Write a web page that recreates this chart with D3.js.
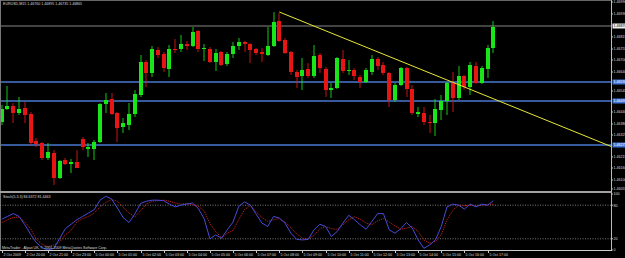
<!DOCTYPE html>
<html><head><meta charset="utf-8">
<script src="https://cdn.jsdelivr.net/npm/d3@7"></script>
<style>html,body{margin:0;padding:0;background:#000;}svg{display:block;}</style>
</head><body>
<svg id="c" width="625" height="258"></svg>
<script>
// ---- data (EURUSD M15) ----
const opens  = [1.46390,1.46455,1.46470,1.46435,1.46460,1.46430,1.46295,1.46285,1.46210,1.46235,1.46110,1.46200,1.46180,1.46190,1.46305,1.46255,1.46255,1.46290,1.46480,1.46505,1.46435,1.46365,1.46375,1.46430,1.46525,1.46690,1.46635,1.46750,1.46730,1.46655,1.46755,1.46755,1.46780,1.46770,1.46845,1.46755,1.46755,1.46690,1.46740,1.46680,1.46730,1.46770,1.46790,1.46780,1.46755,1.46740,1.46725,1.46770,1.46895,1.46800,1.46740,1.46640,1.46620,1.46655,1.46620,1.46725,1.46655,1.46550,1.46560,1.46705,1.46645,1.46650,1.46615,1.46590,1.46640,1.46705,1.46675,1.46635,1.46500,1.46575,1.46660,1.46555,1.46430,1.46435,1.46390,1.46385,1.46450,1.46495,1.46585,1.46510,1.46620,1.46565,1.46670,1.46585,1.46655,1.46760];
const highs  = [1.46475,1.46570,1.46485,1.46515,1.46490,1.46440,1.46310,1.46290,1.46285,1.46250,1.46200,1.46210,1.46205,1.46250,1.46315,1.46285,1.46300,1.46485,1.46535,1.46535,1.46440,1.46410,1.46485,1.46550,1.46725,1.46700,1.46770,1.46765,1.46740,1.46775,1.46805,1.46825,1.46795,1.46865,1.46850,1.46780,1.46765,1.46755,1.46745,1.46740,1.46790,1.46810,1.46795,1.46785,1.46760,1.46760,1.46865,1.46940,1.46935,1.46810,1.46745,1.46650,1.46710,1.46685,1.46775,1.46735,1.46665,1.46585,1.46715,1.46750,1.46700,1.46660,1.46625,1.46660,1.46725,1.46715,1.46690,1.46640,1.46585,1.46665,1.46665,1.46575,1.46465,1.46465,1.46425,1.46505,1.46525,1.46590,1.46640,1.46670,1.46625,1.46690,1.46690,1.46670,1.46775,1.46895];
const lows   = [1.46375,1.46450,1.46385,1.46425,1.46385,1.46275,1.46265,1.46200,1.46200,1.46075,1.46105,1.46175,1.46135,1.46160,1.46250,1.46215,1.46200,1.46285,1.46435,1.46425,1.46290,1.46335,1.46350,1.46415,1.46515,1.46565,1.46615,1.46710,1.46640,1.46615,1.46735,1.46740,1.46750,1.46765,1.46740,1.46695,1.46685,1.46645,1.46670,1.46670,1.46710,1.46750,1.46740,1.46685,1.46725,1.46690,1.46720,1.46765,1.46790,1.46730,1.46625,1.46560,1.46550,1.46610,1.46610,1.46635,1.46515,1.46510,1.46555,1.46635,1.46625,1.46600,1.46560,1.46585,1.46625,1.46650,1.46625,1.46465,1.46490,1.46570,1.46515,1.46425,1.46415,1.46375,1.46335,1.46320,1.46400,1.46425,1.46440,1.46500,1.46550,1.46525,1.46580,1.46580,1.46610,1.46735];
const closes = [1.46455,1.46470,1.46435,1.46455,1.46425,1.46285,1.46280,1.46210,1.46240,1.46110,1.46195,1.46180,1.46190,1.46160,1.46265,1.46265,1.46290,1.46480,1.46500,1.46430,1.46360,1.46385,1.46430,1.46530,1.46690,1.46635,1.46755,1.46725,1.46660,1.46755,1.46750,1.46780,1.46770,1.46840,1.46755,1.46760,1.46690,1.46735,1.46675,1.46730,1.46770,1.46790,1.46780,1.46750,1.46735,1.46730,1.46770,1.46890,1.46795,1.46735,1.46640,1.46615,1.46650,1.46620,1.46720,1.46660,1.46550,1.46560,1.46710,1.46645,1.46650,1.46620,1.46590,1.46650,1.46705,1.46670,1.46635,1.46500,1.46575,1.46660,1.46555,1.46435,1.46440,1.46390,1.46385,1.46455,1.46495,1.46585,1.46510,1.46620,1.46565,1.46675,1.46585,1.46660,1.46760,1.46865];
const stochK = [55,60,65,60,45,28,13,4,0,3,20,38,46,54,60,66,72,89,96,91,75,58,49,64,83,87,89,89,88,82,77,80,82,84,74,56,20,27,21,36,50,78,86,80,64,48,42,60,57,48,30,19,18,19,36,46,42,24,33,48,62,54,45,37,51,65,65,36,30,38,49,39,18,3,9,18,42,77,82,80,73,82,77,82,80,88];
const stochD = [49,54,58,59,50,38,19,10,6,9,14,27,35,50,56,60,66,77,85,90,87,76,66,59,70,82,87,88,89,87,84,82,83,81,78,70,47,33,22,30,35,55,72,80,68,58,51,54,56,50,40,29,21,20,26,38,42,38,37,45,54,59,55,48,45,52,56,50,43,37,39,42,33,18,12,15,27,54,71,80,79,80,79,80,81,82];
const timeLabels = ["2 Oct 2009","2 Oct 20:00","2 Oct 21:00","2 Oct 23:00","5 Oct 00:00","5 Oct 01:00","5 Oct 02:00","5 Oct 03:00","5 Oct 04:00","5 Oct 05:00","5 Oct 06:00","5 Oct 07:00","5 Oct 08:00","5 Oct 09:00","5 Oct 10:00","5 Oct 11:00","5 Oct 12:00","5 Oct 13:00","5 Oct 14:00","5 Oct 15:00","5 Oct 16:00","5 Oct 17:00"];
const timeLabelBars = [0,4,8,12,16,20,24,28,32,36,40,44,48,52,56,60,64,68,72,76,80,84];
const priceTicks = [1.46990,1.46930,1.46815,1.46755,1.46700,1.46640,1.46545,1.46440,1.46380,1.46325,1.46215,1.46160,1.46100,1.46055];
const grayLevel = 1.46870;
const blueLevels = [1.46590,1.46495,1.46275];
const trendBars = [48,105];
const trendPrices = [1.46940,1.46272];
const stochLevels = [80,20];
const stochTicks = [100,80,20,0];
const titleText = "EURUSD,M15  1.46760 1.46895 1.46735 1.46865";
const stochTitle = "Stoch(5,3,3) 84.6372 81.4463";
const footer = "MetaTrader - Alpari UK, \u00A9 2001-2009 MetaQuotes Software Corp.";

// ---- layout ----
const W = 625, plotR = 611, mainBot = 191, stTop = 193, stBot = 250;
const svg = d3.select("#c");
svg.append("rect").attr("width",W).attr("height",258).attr("fill","#000");
const font = "Liberation Sans, Arial, sans-serif";

const x = d3.scaleLinear().domain([0,85]).range([1.7,493.3]);
const y = d3.scaleLinear().domain([1.4605,1.4700]).range([190,0]);
const ys = d3.scaleLinear().domain([0,100]).range([stBot,stTop+1]);

svg.append("defs").append("clipPath").attr("id","mc")
  .append("rect").attr("x",0).attr("y",0).attr("width",plotR).attr("height",mainBot);
const main = svg.append("g").attr("clip-path","url(#mc)");

// frame lines
svg.append("line").attr("x1",0).attr("x2",plotR).attr("y1",0.5).attr("y2",0.5).attr("stroke","#666");
svg.append("line").attr("x1",0.5).attr("x2",0.5).attr("y1",0).attr("y2",stBot).attr("stroke","#777");
svg.append("rect").attr("x",0).attr("y",mainBot).attr("width",plotR).attr("height",2).attr("fill","#a0a0a0");

// horizontal level lines
main.append("line").attr("x1",0).attr("x2",plotR).attr("y1",y(grayLevel)).attr("y2",y(grayLevel))
  .attr("stroke","#5a5a5a").attr("stroke-width",1.5);
main.selectAll(".bl").data(blueLevels).join("line")
  .attr("x1",0).attr("x2",plotR).attr("y1",d=>y(d)).attr("y2",d=>y(d))
  .attr("stroke","#4a78d0").attr("stroke-width",1.5);

// candles
const idx = d3.range(opens.length);
const cg = main.append("g");
idx.forEach(i=>{
  const cx = Math.round(x(i));
  const up = closes[i] >= opens[i];
  const col = up ? "#19e619" : "#e81515";
  cg.append("line").attr("x1",cx).attr("x2",cx).attr("y1",y(highs[i])).attr("y2",y(lows[i]))
    .attr("stroke",col).attr("stroke-width",1).attr("stroke-opacity",0.85);
  const top = y(Math.max(opens[i],closes[i])), bot = y(Math.min(opens[i],closes[i]));
  cg.append("rect").attr("x",cx-2).attr("width",4).attr("y",top).attr("height",Math.max(1,bot-top)).attr("fill",col);
});

// trend line (ray to the right)
const slope = (trendPrices[1]-trendPrices[0])/(trendBars[1]-trendBars[0]);
const endBar = x.invert(plotR);
main.append("line").attr("x1",x(trendBars[0])).attr("y1",y(trendPrices[0]))
  .attr("x2",x(endBar)).attr("y2",y(trendPrices[0]+slope*(endBar-trendBars[0])))
  .attr("stroke","#e8e83a").attr("stroke-width",1);

// right price axis
svg.append("line").attr("x1",plotR+0.5).attr("x2",plotR+0.5).attr("y1",0).attr("y2",stBot+1).attr("stroke","#bbb");
const pa = svg.append("g");
priceTicks.forEach(p=>{
  pa.append("line").attr("x1",plotR).attr("x2",plotR+2).attr("y1",y(p)).attr("y2",y(p)).attr("stroke","#bbb");
  pa.append("text").attr("x",plotR+2.5).attr("y",y(p)+1.3).attr("font-size",3.6).attr("font-family",font)
    .attr("fill","#ddd").text(p.toFixed(5));
});
function tag(p, bg, fg){
  pa.append("rect").attr("x",plotR+1.5).attr("y",y(p)-2.5).attr("width",13).attr("height",5).attr("fill",bg);
  pa.append("text").attr("x",plotR+2.5).attr("y",y(p)+1.3).attr("font-size",3.6).attr("font-family",font)
    .attr("fill",fg).text(p.toFixed(5));
}
tag(grayLevel,"#eeeeee","#000");
blueLevels.forEach(p=>tag(p,"#3f74d8","#fff"));

// title
svg.append("text").attr("x",3).attr("y",5).attr("font-size",3.6).attr("font-family",font).attr("fill","#ddd").text(titleText);

// ---- stochastic window ----
const sg = svg.append("g");
stochLevels.forEach(l=>{
  sg.append("line").attr("x1",0).attr("x2",plotR).attr("y1",ys(l)).attr("y2",ys(l))
    .attr("stroke","#9a9a9a").attr("stroke-width",0.8).attr("stroke-dasharray","1,1.5");
});
const lineK = d3.line().x((d,i)=>x(i)).y(d=>ys(d)).curve(d3.curveLinear);
sg.append("path").attr("d",lineK(stochD)).attr("fill","none").attr("stroke","#c42020")
  .attr("stroke-width",1).attr("stroke-dasharray","1.2,1");
sg.append("path").attr("d",lineK(stochK)).attr("fill","none").attr("stroke","#4a4ad8").attr("stroke-width",1);
sg.append("text").attr("x",3).attr("y",197.5).attr("font-size",3.6).attr("font-family",font).attr("fill","#ddd").text(stochTitle);
sg.append("text").attr("x",2).attr("y",249).attr("font-size",3.6).attr("font-family",font).attr("fill","#ddd").text(footer);
stochTicks.forEach(t=>{
  sg.append("line").attr("x1",plotR).attr("x2",plotR+2).attr("y1",ys(t)).attr("y2",ys(t)).attr("stroke","#bbb");
  sg.append("text").attr("x",plotR+2.5).attr("y",ys(t)+1.3).attr("font-size",3.6).attr("font-family",font).attr("fill","#ddd").text(t);
});

// bottom time axis
svg.append("line").attr("x1",0).attr("x2",plotR+1).attr("y1",stBot+0.5).attr("y2",stBot+0.5).attr("stroke","#ccc");
timeLabels.forEach((t,k)=>{
  const bx = Math.round(x(timeLabelBars[k]));
  svg.append("line").attr("x1",bx+0.5).attr("x2",bx+0.5).attr("y1",stBot).attr("y2",stBot+3).attr("stroke","#ccc");
  svg.append("text").attr("x",bx+1.5).attr("y",256).attr("font-size",3.6).attr("font-family",font).attr("fill","#ddd").text(t);
});
</script>
</body></html>
